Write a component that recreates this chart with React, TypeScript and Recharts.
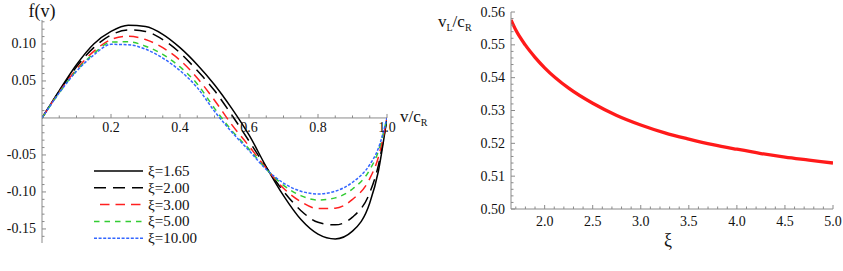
import React from 'react';
import { LineChart, Line, XAxis, YAxis, ReferenceLine, ReferenceDot, Legend } from 'recharts';

// ---------- Left panel data ----------
const vGrid = [0, 0.05, 0.1, 0.15, 0.2, 0.25, 0.3, 0.35, 0.4, 0.45, 0.5, 0.55, 0.6, 0.65, 0.7, 0.75, 0.8, 0.85, 0.9, 0.95, 0.975, 1.0];
const f165 = [0, 0.037, 0.072, 0.1, 0.117, 0.1253, 0.1235, 0.113, 0.095, 0.072, 0.045, 0.013, -0.023, -0.066, -0.105, -0.137, -0.157, -0.1635, -0.153, -0.115, -0.072, 0];
const f200 = [0, 0.036, 0.069, 0.095, 0.112, 0.119, 0.117, 0.106, 0.088, 0.064, 0.037, 0.004, -0.031, -0.067, -0.099, -0.125, -0.141, -0.1445, -0.134, -0.101, -0.064, 0];
const f300 = [0, 0.035, 0.066, 0.09, 0.106, 0.1105, 0.106, 0.095, 0.078, 0.054, 0.024, -0.009, -0.038, -0.068, -0.095, -0.113, -0.1225, -0.122, -0.11, -0.082, -0.053, 0];
const f500 = [0, 0.034, 0.064, 0.087, 0.1025, 0.103, 0.097, 0.086, 0.069, 0.046, 0.013, -0.017, -0.042, -0.069, -0.091, -0.105, -0.111, -0.108, -0.096, -0.07, -0.045, 0];
const f1000 = [0, 0.034, 0.063, 0.085, 0.0995, 0.099, 0.093, 0.081, 0.064, 0.041, 0.009, -0.019, -0.044, -0.0695, -0.088, -0.099, -0.1027, -0.099, -0.087, -0.063, -0.041, 0];

const seriesKeys = ['s165', 's200', 's300', 's500', 's1000'];
const seriesNames = ['ξ=1.65', 'ξ=2.00', 'ξ=3.00', 'ξ=5.00', 'ξ=10.00'];
const seriesColors = ['#000000', '#000000', '#ff2020', '#33cc33', '#3366ff'];
const seriesDash = ['', '12 7', '9.5 6', '5.5 5', '3 1.6'];
const seriesDashOffset = [0, 0, 9.5, 0, 0];
const seriesValues = [f165, f200, f300, f500, f1000];

const leftXTicks = [0.05, 0.1, 0.15, 0.2, 0.25, 0.3, 0.35, 0.4, 0.45, 0.5, 0.55, 0.6, 0.65, 0.7, 0.75, 0.8, 0.85, 0.9, 0.95, 1.0];
const leftXMajor = [0.2, 0.4, 0.6, 0.8, 1.0];
const leftXLabels = ['0.2', '0.4', '0.6', '0.8', '1.0'];
const leftYTicks = [-0.16, -0.15, -0.14, -0.13, -0.12, -0.11, -0.1, -0.09, -0.08, -0.07, -0.06, -0.05, -0.04, -0.03, -0.02, -0.01, 0.01, 0.02, 0.03, 0.04, 0.05, 0.06, 0.07, 0.08, 0.09, 0.1, 0.11, 0.12, 0.13];
const leftYMajor = [-0.15, -0.1, -0.05, 0.05, 0.1];
const leftYLabels = ['-0.15', '-0.10', '-0.05', '0.05', '0.10'];

// ---------- Right panel data ----------
const xiGrid = [1.65, 1.7, 1.8, 1.9, 2.0, 2.25, 2.5, 2.75, 3.0, 3.25, 3.5, 3.75, 4.0, 4.25, 4.5, 4.75, 5.0];
const vLValues = [0.5576, 0.5545, 0.5499, 0.5462, 0.543, 0.5368, 0.5322, 0.5285, 0.5256, 0.5232, 0.5213, 0.5196, 0.5182, 0.5169, 0.5158, 0.5149, 0.514];

const rightXTicks = [1.7, 1.8, 1.9, 2.0, 2.1, 2.2, 2.3, 2.4, 2.5, 2.6, 2.7, 2.8, 2.9, 3.0, 3.1, 3.2, 3.3, 3.4, 3.5, 3.6, 3.7, 3.8, 3.9, 4.0, 4.1, 4.2, 4.3, 4.4, 4.5, 4.6, 4.7, 4.8, 4.9, 5.0];
const rightXMajor = [2.0, 2.5, 3.0, 3.5, 4.0, 4.5, 5.0];
const rightXLabels = ['2.0', '2.5', '3.0', '3.5', '4.0', '4.5', '5.0'];
const rightYTicks = [0.5, 0.502, 0.504, 0.506, 0.508, 0.51, 0.512, 0.514, 0.516, 0.518, 0.52, 0.522, 0.524, 0.526, 0.528, 0.53, 0.532, 0.534, 0.536, 0.538, 0.54, 0.542, 0.544, 0.546, 0.548, 0.55, 0.552, 0.554, 0.556, 0.558, 0.56];
const rightYMajor = [0.5, 0.51, 0.52, 0.53, 0.54, 0.55, 0.56];
const rightYLabels = ['0.50', '0.51', '0.52', '0.53', '0.54', '0.55', '0.56'];

const leftData = vGrid.map((v, i) => {
  const row: any = { v };
  seriesKeys.forEach((k, j) => { row[k] = seriesValues[j][i]; });
  return row;
});
const rightData = xiGrid.map((xi, i) => ({ xi, vL: vLValues[i] }));

const FONT = "'Liberation Serif', 'DejaVu Serif', serif";
const TXT: React.CSSProperties = { fontFamily: FONT };
const AXIS = '#8a8a8a';

const findMajor = (value: number, majors: number[], labels: string[]) => {
  const idx = majors.findIndex((m) => Math.abs(m - value) < 1e-9);
  return idx >= 0 ? labels[idx] : null;
};

// y-axis tick drawn inward (to the right), label on the left
const makeYTick = (majors: number[], labels: string[]) => (props: any) => {
  const { x, y, payload } = props;
  const label = findMajor(payload.value, majors, labels);
  return (
    <g>
      <line x1={x} y1={y} x2={x + (label ? 4 : 2.5)} y2={y} stroke={AXIS} strokeWidth={1} />
      {label && (
        <text x={x - 6} y={y + 4.5} textAnchor="end" style={TXT} fontSize={14} fill="#111">
          {label}
        </text>
      )}
    </g>
  );
};

// x-axis tick drawn upward, label below
const makeXTick = (majors: number[], labels: string[]) => (props: any) => {
  const { x, y, payload } = props;
  const label = findMajor(payload.value, majors, labels);
  return (
    <g>
      <line x1={x} y1={y} x2={x} y2={y - (label ? 4 : 2.5)} stroke={AXIS} strokeWidth={1} />
      {label && (
        <text x={x} y={y + 17} textAnchor="middle" style={TXT} fontSize={14} fill="#111">
          {label}
        </text>
      )}
    </g>
  );
};

const LeftLegend = () => (
  <svg width={130} height={90} style={{ display: 'block', overflow: 'visible' }}>
    {seriesNames.map((name, i) => {
      const cy = 11 + i * 16.8;
      return (
        <g key={name}>
          <line
            x1={4}
            y1={cy}
            x2={53}
            y2={cy}
            stroke={seriesColors[i]}
            strokeWidth={1.5}
            strokeDasharray={seriesDash[i] || undefined}
            strokeDashoffset={seriesDashOffset[i]}
          />
          <text x={58} y={cy + 5} style={TXT} fontSize={15} fill="#111">
            {name}
          </text>
        </g>
      );
    })}
  </svg>
);

const LeftChart = () => (
  <LineChart width={445} height={271} data={leftData} margin={{ top: 20, right: 58, bottom: 28, left: 0 }}>
    <XAxis dataKey="v" type="number" domain={[0, 1]} hide allowDataOverflow />
    <YAxis
      type="number"
      domain={[-0.169, 0.1324]}
      allowDataOverflow
      ticks={leftYTicks}
      interval={0}
      width={42}
      tickSize={0}
      tickMargin={0}
      tickLine={false}
      axisLine={{ stroke: AXIS, strokeWidth: 1 }}
      tick={makeYTick(leftYMajor, leftYLabels)}
      label={{
        content: () => (
          <text x={42} y={17} textAnchor="middle" style={TXT} fontSize={18} fill="#111">
            f(v)
          </text>
        ),
      }}
    />
    <ReferenceLine
      y={0}
      stroke={AXIS}
      strokeWidth={1}
      label={{
        content: () => (
          <text x={400} y={122} style={TXT} fontSize={17} fill="#111">
            v/c<tspan dy={4} fontSize={10}>R</tspan>
          </text>
        ),
      }}
    />
    {leftXTicks.map((t) => {
      const label = findMajor(t, leftXMajor, leftXLabels);
      return (
        <ReferenceDot
          key={'xt' + t}
          x={t}
          y={0}
          r={0}
          ifOverflow="visible"
          shape={(p: any) => (
            <g>
              <line x1={p.cx} y1={p.cy} x2={p.cx} y2={p.cy - (label ? 4 : 2.5)} stroke={AXIS} strokeWidth={1} />
              {label && (
                <text x={p.cx} y={p.cy + 14} textAnchor="middle" style={TXT} fontSize={14} fill="#111">
                  {label}
                </text>
              )}
            </g>
          )}
        />
      );
    })}
    {seriesKeys.map((k, i) => (
      <Line
        key={k}
        dataKey={k}
        name={seriesNames[i]}
        type="monotone"
        stroke={seriesColors[i]}
        strokeWidth={1.5}
        strokeDasharray={seriesDash[i] || undefined}
        dot={false}
        isAnimationActive={false}
      />
    ))}
    <Legend
      layout="vertical"
      align="center"
      verticalAlign="middle"
      content={() => <LeftLegend />}
      wrapperStyle={{ left: 90, top: 160, width: 130, height: 90 }}
    />
  </LineChart>
);

const RightChart = () => (
  <LineChart width={423} height={271} data={rightData} margin={{ top: 12, right: 10, bottom: 0, left: 0 }}>
    <XAxis
      dataKey="xi"
      type="number"
      domain={[1.65, 5]}
      allowDataOverflow
      ticks={rightXTicks}
      interval={0}
      height={62}
      tickSize={0}
      tickMargin={0}
      tickLine={false}
      axisLine={{ stroke: AXIS, strokeWidth: 1 }}
      tick={makeXTick(rightXMajor, rightXLabels)}
      label={{
        content: () => (
          <text x={248} y={246} textAnchor="middle" style={TXT} fontSize={18} fill="#111">
            ξ
          </text>
        ),
      }}
    />
    <YAxis
      type="number"
      domain={[0.5, 0.56]}
      allowDataOverflow
      ticks={rightYTicks}
      interval={0}
      width={91}
      tickSize={0}
      tickMargin={0}
      tickLine={false}
      axisLine={{ stroke: AXIS, strokeWidth: 1 }}
      tick={makeYTick(rightYMajor, rightYLabels)}
      label={{
        content: () => (
          <text x={18} y={27} style={TXT} fontSize={17} fill="#111">
            v<tspan dy={4} fontSize={10}>L</tspan>
            <tspan dy={-4}>/c</tspan>
            <tspan dy={4} fontSize={10}>R</tspan>
          </text>
        ),
      }}
    />
    <Line
      dataKey="vL"
      type="monotone"
      stroke="#ff1a1a"
      strokeWidth={3.3}
      dot={false}
      isAnimationActive={false}
    />
  </LineChart>
);

export default function App() {
  return (
    <div style={{ position: 'absolute', left: 0, top: 0, width: 843, height: 271, background: '#fff', overflow: 'hidden' }}>
      <div style={{ position: 'absolute', left: 0, top: 0 }}>
        <LeftChart />
      </div>
      <div style={{ position: 'absolute', left: 420, top: 0 }}>
        <RightChart />
      </div>
    </div>
  );
}
